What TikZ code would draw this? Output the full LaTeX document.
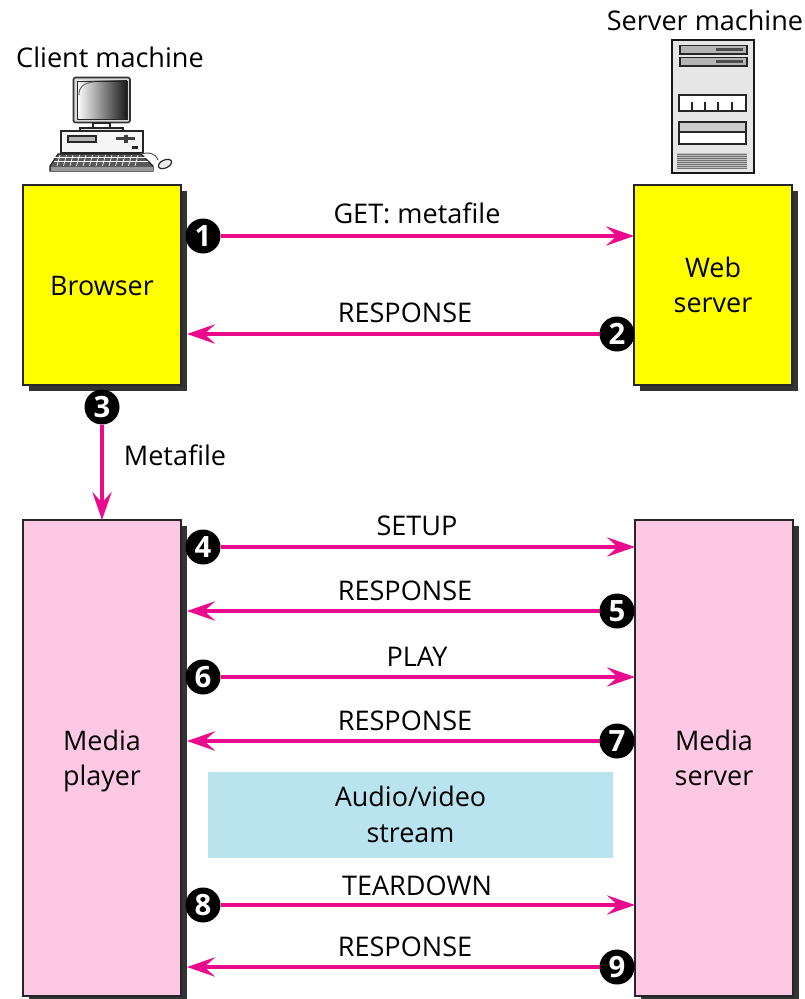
\documentclass[tikz,border=0pt]{standalone}
\usepackage{fontspec}
\setmainfont{Open Sans}
\usetikzlibrary{arrows.meta}
\definecolor{arrowpink}{HTML}{EC0A8C}
\definecolor{boxpink}{HTML}{FCC8E3}
\definecolor{boxyellow}{HTML}{FFFF00}
\definecolor{streamblue}{HTML}{B9E3EF}
\definecolor{shadowgray}{HTML}{333333}
\definecolor{lightpanel}{HTML}{E6E6E6}
\definecolor{midpanel}{HTML}{B4B4B4}
\newcommand{\lineone}{\rule{0pt}{23pt}}
\tikzset{
  x=0.75pt,y=-0.75pt,
  box/.style={draw=black!85,line width=1.9pt,inner sep=0pt,outer sep=0pt,minimum width=118.5pt,align=center,font=\fontsize{20.2}{26.3}\selectfont},
  boxshadow/.style={fill=shadowgray,inner sep=0pt,outer sep=0pt,minimum width=118.5pt},
  num/.style={circle,fill=black,text=white,inner sep=0pt,outer sep=0pt,minimum size=26.25pt,font=\fontsize{22}{22}\selectfont\bfseries},
  msg/.style={draw=arrowpink,line width=2.5pt,-{Stealth[length=21pt,width=14.5pt,inset=8pt]}},
  lbl/.style={inner sep=0pt,font=\fontsize{20.3}{24}\selectfont,text=black},
}
\tikzset{icon/.style={draw=black!85,line width=0.9pt}}
\begin{document}
\begin{tikzpicture}
\useasboundingbox (0,0) rectangle (804,999);
% shadows
\node[boxshadow,minimum height=150pt] (browsersh) at (108,291) {};
\node[boxshadow,minimum height=357pt] (playersh) at (108,764) {};
\node[boxshadow,minimum height=150pt] (websh) at (719,291) {};
\node[boxshadow,minimum height=357pt] (mserversh) at (720,764) {};
% boxes
\node[box,fill=boxyellow,minimum height=150pt] (browser) at (102,285) {\lineone\strut Browser};
\node[box,fill=boxyellow,minimum height=150pt] (web) at (713,285) {\lineone\strut Web\\\strut server};
\node[box,fill=boxpink,minimum height=357pt] (player) at (102,758) {\lineone\strut Media\\\strut player};
\node[box,fill=boxpink,minimum height=357pt] (mserver) at (714,758) {\lineone\strut Media\\\strut server};
\node[fill=streamblue,inner sep=0pt,minimum width=303.75pt,minimum height=64.5pt,align=center,font=\fontsize{20.2}{27}\selectfont] (stream) at (410.5,815) {\lineone\strut Audio/video\\\strut stream};
% numbers
\node[num] (n1) at (203,236) {1};
\node[num] (n2) at (617,334) {2};
\node[num] (n3) at (102,407) {3};
\node[num] (n4) at (203,547) {4};
\node[num] (n5) at (617,611) {5};
\node[num] (n6) at (203,677) {6};
\node[num] (n7) at (617,741) {7};
\node[num] (n8) at (203,905) {8};
\node[num] (n9) at (617,967) {9};
% connectors
\draw[msg] (n1) -- (n1 -| web.west);
\draw[msg] (n2) -- (n2 -| browsersh.east);
\draw[msg] (n3) -- (n3 |- player.north);
\draw[msg] (n4) -- (n4 -| mserver.west);
\draw[msg] (n5) -- (n5 -| playersh.east);
\draw[msg] (n6) -- (n6 -| mserver.west);
\draw[msg] (n7) -- (n7 -| playersh.east);
\draw[msg] (n8) -- (n8 -| mserver.west);
\draw[msg] (n9) -- (n9 -| playersh.east);
% labels
\node[lbl] (lclient) at (110,57) {Client machine};
\node[lbl] (lserver) at (705,20) {Server machine};
\node[lbl] (lget) at (417,213) {GET: metafile};
\node[lbl] (lr1) at (405,313) {RESPONSE};
\node[lbl] (lmeta) at (175,455) {Metafile};
\node[lbl] (lsetup) at (417,526) {SETUP};
\node[lbl] (lr2) at (405,591) {RESPONSE};
\node[lbl] (lplay) at (417,657) {PLAY};
\node[lbl] (lr3) at (405,721) {RESPONSE};
\node[lbl] (ltear) at (417,886) {TEARDOWN};
\node[lbl] (lr4) at (405,947) {RESPONSE};
% client computer
\draw[black!80,line width=1.2pt,fill=black!15,rounded corners=1.5pt] (73.5,77.5) rectangle (130,122.5);
\shade[left color=white,right color=black!90] (77,81) rectangle (127,119);
\draw[black!85,line width=0.7pt] (77,81) rectangle (127,119);
\draw[black!55,line width=0.8pt] (79,95) .. controls (79,87) and (83,83) .. (94,82);
\draw[icon,fill=white] (93,123) rectangle (110,128);
\draw[icon,fill=lightpanel] (80,128) rectangle (123,131);
\draw[icon,fill=black!4] (61,131) rectangle (143,153);
\draw[icon,fill=midpanel] (68,136) rectangle (96,142);
\fill[black!75] (116,137) rectangle (135,140);
\fill[black!75] (124,134.5) rectangle (128,143);
\fill[black!85] (132,146) rectangle (138,149);
\draw[icon,fill=black!65] (58,154) -- (141,154) -- (153,166) -- (153,171) -- (50,171) -- (50,166) -- cycle;
\foreach \kx in {60,66.5,...,140}{\draw[white,line width=0.5pt] (\kx,155) -- (\kx-3,166);}
\foreach \ky in {157.5,161.5}{\draw[white,line width=0.5pt] (54,\ky) -- (148,\ky);}
\fill[black!40] (50.5,166.5) rectangle (152.5,170.5);
\draw[black!70,line width=0.7pt] (140,154) .. controls (150,152) and (155,153) .. (158,160);
\draw[icon,fill=black!8,rotate around={25:(165,164)}] (165,164) ellipse (7 and 4);
% server
\draw[black!90,line width=1.6pt,fill=lightpanel] (672,40) rectangle (754,173);
\foreach \dy in {45.5,57.5}{
  \draw[black!85,line width=1.1pt,fill=midpanel] (680,\dy) rectangle (747,\dy+8.5);
  \fill[black!70] (716,\dy+3) rectangle (743,\dy+6);
}
\draw[black!85,line width=1.1pt,fill=white] (679,95) rectangle (746,111);
\foreach \tx in {692,705,718,732}{\draw[icon] (\tx,102) -- (\tx,111);}
\draw[black!85,line width=1.1pt,fill=white] (679,122) rectangle (746,144);
\draw[black!85,line width=1.1pt,fill=black!20] (679,122) rectangle (746,132);
\fill[black!25] (677,153) rectangle (747,168);
\foreach \vy in {154,156,...,168}{\draw[black!55,line width=0.7pt] (677,\vy) -- (747,\vy);}
\end{tikzpicture}
\end{document}
